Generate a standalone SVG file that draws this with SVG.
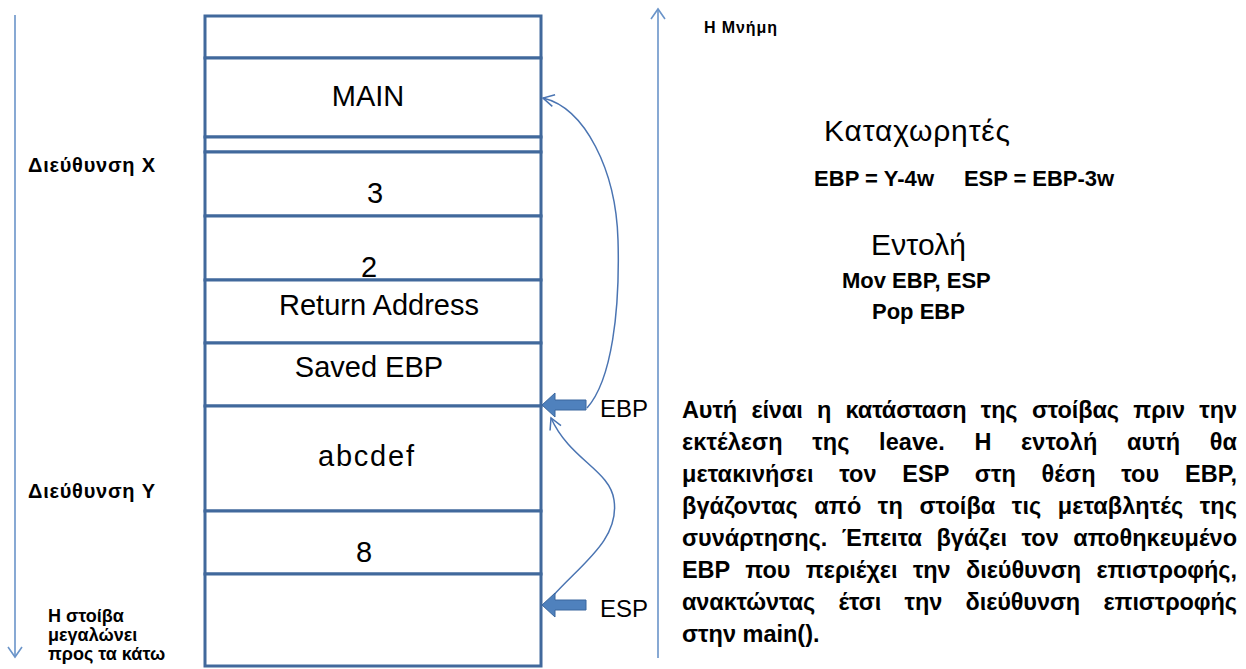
<svg xmlns="http://www.w3.org/2000/svg" width="1246" height="669" viewBox="0 0 1246 669">
<style>
text{font-family:"Liberation Sans",Arial,sans-serif;fill:#000}
.cell{font-size:29px;text-anchor:middle}
.b{font-weight:bold}
.stk{fill:#fff;stroke:#41699c;stroke-width:3}
.axis{stroke:#6a94c9;stroke-width:1.6;fill:none}
.curve{stroke:#4a74b2;stroke-width:1.5;fill:none}
.blk{fill:#4f81bd;stroke:#3b679e;stroke-width:1}
.para{font-size:23.5px;font-weight:bold}
.lbl{font-size:24px}
.side{font-size:20px;font-weight:bold}
.note{font-size:18px;font-weight:bold}
.big{font-size:30px}
.mid{font-size:22px;font-weight:bold}
</style>
<defs>
<marker id="openC" markerUnits="userSpaceOnUse" markerWidth="14" markerHeight="16" viewBox="-12 -8 14 16" refX="0" refY="0" orient="auto">
<path d="M-11,-6 L0,0 L-11,6" fill="none" stroke="#4a74b2" stroke-width="1.5"/>
</marker>
<marker id="openA" markerUnits="userSpaceOnUse" markerWidth="14" markerHeight="16" viewBox="-12 -8 14 16" refX="0" refY="0" orient="auto">
<path d="M-10,-7 L0,0 L-10,7" fill="none" stroke="#6a94c9" stroke-width="1.6"/>
</marker>
</defs>

<g id="stack">
<g id="cell-top"><rect class="stk" x="205" y="16" width="336" height="42"/></g>
<g id="cell-main"><rect class="stk" x="205" y="58" width="336" height="79"/><text class="cell" x="368" y="106">MAIN</text></g>
<g id="cell-gap"><rect class="stk" x="205" y="137" width="336" height="15"/></g>
<g id="cell-3"><rect class="stk" x="205" y="152" width="336" height="64"/><text class="cell" x="375" y="203">3</text></g>
<g id="cell-2"><rect class="stk" x="205" y="216" width="336" height="64"/><text class="cell" x="369" y="277">2</text></g>
<g id="cell-ret"><rect class="stk" x="205" y="280" width="336" height="63"/><text class="cell" x="379" y="315">Return Address</text></g>
<g id="cell-saved"><rect class="stk" x="205" y="343" width="336" height="63"/><text class="cell" x="369" y="377">Saved EBP</text></g>
<g id="cell-abc"><rect class="stk" x="205" y="406" width="336" height="105"/><text class="cell" x="366" y="466" textLength="96">abcdef</text></g>
<g id="cell-8"><rect class="stk" x="205" y="511" width="336" height="63"/><text class="cell" x="364" y="562">8</text></g>
<g id="cell-empty"><rect class="stk" x="205" y="574" width="336" height="92"/></g>
</g>

<g id="connectors">
<line class="axis" x1="15" y1="15" x2="15" y2="657" marker-end="url(#openA)"/>
<line class="axis" x1="658" y1="658" x2="658" y2="9" marker-end="url(#openA)"/>
<path class="curve" d="M587,408 C612,380 620,310 618,240 C616,170 585,108 543,98" marker-end="url(#openC)"/>
<path class="curve" d="M552,597 C580,565 620,540 614,500 C610,470 570,460 551,418" marker-end="url(#openC)"/>
</g>

<g id="ptr-ebp">
<polygon class="blk" points="542,405 555,393 555,400 586,400 586,410 555,410 555,417"/>
<text class="lbl" x="600" y="417">EBP</text>
</g>
<g id="ptr-esp">
<polygon class="blk" points="542,605 555,593 555,600 586,600 586,610 555,610 555,617"/>
<text class="lbl" x="600" y="617">ESP</text>
</g>

<g id="left-labels">
<text class="side" x="28" y="172" textLength="127">Διεύθυνση X</text>
<text class="side" x="28" y="498" textLength="127">Διεύθυνση Y</text>
<text class="note" x="48" y="622">Η στοίβα</text>
<text class="note" x="48" y="641">μεγαλώνει</text>
<text class="note" x="48" y="660">προς τα κάτω</text>
</g>

<g id="memory-label">
<text class="b" style="font-size:16px" x="704" y="33" textLength="73">Η Μνήμη</text>
</g>

<g id="registers">
<text class="big" x="824" y="141" textLength="186">Καταχωρητές</text>
<text class="mid" x="814" y="186" textLength="120">EBP = Y-4w</text>
<text class="mid" x="964" y="186" textLength="150">ESP = EBP-3w</text>
</g>

<g id="instruction">
<text class="big" x="871" y="255" textLength="95">Εντολή</text>
<text class="mid" x="842" y="288">Mov EBP, ESP</text>
<text class="mid" x="872" y="319">Pop EBP</text>
</g>

<g id="description">
<text class="para" x="682" y="418" style="word-spacing:8px" textLength="555">Αυτή είναι η κατάσταση της στοίβας πριν την</text>
<text class="para" x="682" y="450" style="word-spacing:23px" textLength="555">εκτέλεση της leave. Η εντολή αυτή θα</text>
<text class="para" x="682" y="482" style="word-spacing:19px" textLength="555">μετακινήσει τον ESP στη θέση του EBP,</text>
<text class="para" x="682" y="514" style="word-spacing:10px" textLength="555">βγάζοντας από τη στοίβα τις μεταβλητές της</text>
<text class="para" x="682" y="546" style="word-spacing:8px" textLength="555">συνάρτησης. Έπειτα βγάζει τον αποθηκευμένο</text>
<text class="para" x="682" y="578" style="word-spacing:9px" textLength="555">EBP που περιέχει την διεύθυνση επιστροφής,</text>
<text class="para" x="682" y="610" style="word-spacing:17px" textLength="555">ανακτώντας έτσι την διεύθυνση επιστροφής</text>
<text class="para" x="682" y="642">στην main().</text>
</g>
</svg>
